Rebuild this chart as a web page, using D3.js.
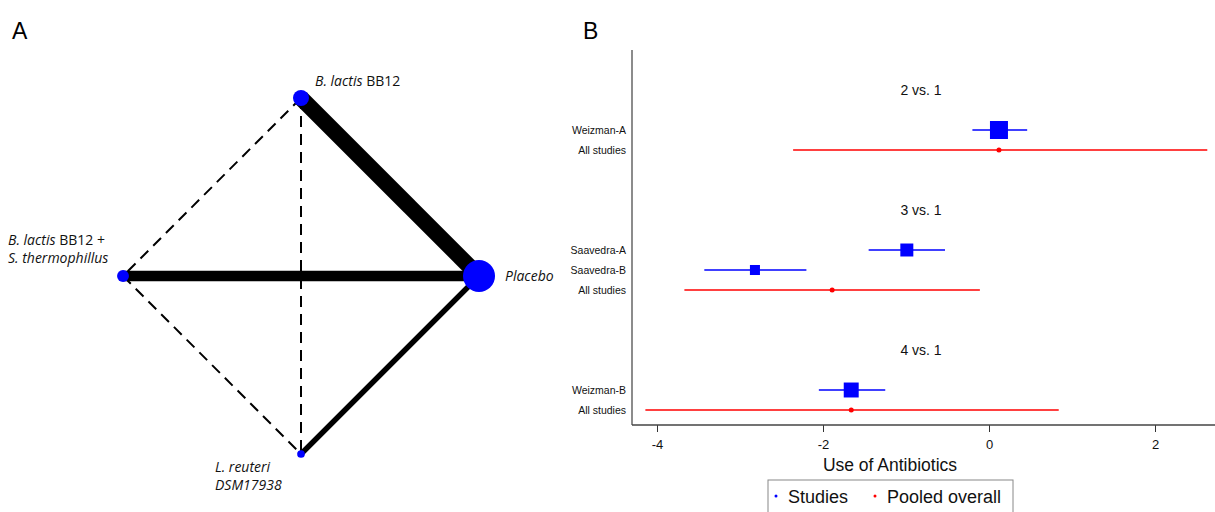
<!DOCTYPE html>
<html>
<head>
<meta charset="utf-8">
<script src="https://cdn.jsdelivr.net/npm/d3@7"></script>
<style>
  body { margin: 0; background: #fff; }
  svg { display: block; }
</style>
</head>
<body>
<div id="chart"></div>
<script>
// ---- Panel A: network of treatments ----
// order around the diamond: top, right, bottom, left
const netNodes = ['BB12', 'Placebo', 'Reuteri', 'BB12S'];
const nodeSizes = [65, 260, 15, 36]; // relative sample size (area)
const netEdges = [
  { a: 'BB12', b: 'Placebo', w: 3 },
  { a: 'BB12S', b: 'Placebo', w: 2 },
  { a: 'Reuteri', b: 'Placebo', w: 1 },
  { a: 'BB12', b: 'BB12S', w: 0 },
  { a: 'BB12', b: 'Reuteri', w: 0 },
  { a: 'BB12S', b: 'Reuteri', w: 0 }
];

// ---- Panel B: forest plot ----
const groupTitles = ['2 vs. 1', '3 vs. 1', '4 vs. 1'];
const studyNames = ['Weizman-A', 'All studies', 'Saavedra-A', 'Saavedra-B', 'All studies', 'Weizman-B', 'All studies'];
const studyPooled = [false, true, false, false, true, false, true];
const estimates = [0.12, 0.12, -0.99, -2.82, -1.89, -1.66, -1.66];
const lowerCI = [-0.2, -2.36, -1.45, -3.43, -3.67, -2.05, -4.14];
const upperCI = [0.46, 2.63, -0.53, -2.2, -0.11, -1.25, 0.84];
const weights = [1.0, null, 0.52, 0.31, null, 0.69, null];
const xTicks = [-4, -2, 0, 2];

const W = 1215, H = 512;
const svg = d3.select('#chart').append('svg')
  .attr('width', W).attr('height', H);

// panel letters
svg.append('text').attr('x', 12).attr('y', 39)
  .style('font', '23px "Liberation Sans", Arial, sans-serif').text('A');
svg.append('text').attr('x', 583).attr('y', 39)
  .style('font', '23px "Liberation Sans", Arial, sans-serif').text('B');

/* ---------- network ---------- */
const cx = 301, cy = 276, R = 178;
const angle = d3.scalePoint().domain(netNodes).range([-90, 180]);
const pos = {};
netNodes.forEach(n => {
  const a = angle(n) * Math.PI / 180;
  pos[n] = [cx + R * Math.cos(a), cy + R * Math.sin(a)];
});
const edgeW = d3.scaleLinear().domain([0, 3]).range([0, 16]);
const nodeR = d3.scaleSqrt().domain([0, 260]).range([0, 16]);

const gA = svg.append('g');
gA.selectAll('line.edge')
  .data(netEdges)
  .join('line')
  .attr('class', 'edge')
  .attr('x1', d => pos[d.a][0]).attr('y1', d => pos[d.a][1])
  .attr('x2', d => pos[d.b][0]).attr('y2', d => pos[d.b][1])
  .attr('stroke', '#000')
  .attr('stroke-width', d => d.w > 0 ? edgeW(d.w) : 2)
  .attr('stroke-dasharray', d => d.w > 0 ? null : '11,7');

gA.selectAll('circle.node')
  .data(netNodes)
  .join('circle')
  .attr('class', 'node')
  .attr('cx', d => pos[d][0]).attr('cy', d => pos[d][1])
  .attr('r', (d, i) => nodeR(nodeSizes[i]))
  .attr('fill', '#0000ff');

const labFont = '14px "Open Sans", "Noto Sans", sans-serif';
function netLabel(x, y, parts) {
  const t = gA.append('text').attr('x', x).attr('y', y).style('font', labFont).attr('fill', '#111');
  parts.forEach(p => t.append('tspan').style('font-style', p[1] ? 'italic' : 'normal').text(p[0]));
}
netLabel(pos.BB12[0] + 14, pos.BB12[1] - 12, [['B. lactis', true], [' BB12', false]]);
netLabel(pos.BB12S[0] - 115, pos.BB12S[1] - 31, [['B. lactis', true], [' BB12 +', false]]);
netLabel(pos.BB12S[0] - 115, pos.BB12S[1] - 13, [['S. thermophillus', true]]);
netLabel(pos.Placebo[0] + 26, pos.Placebo[1] + 5, [['Placebo', true]]);
netLabel(pos.Reuteri[0] - 86, pos.Reuteri[1] + 18, [['L. reuteri', true]]);
netLabel(pos.Reuteri[0] - 86, pos.Reuteri[1] + 36, [['DSM17938', true]]);

/* ---------- forest plot ---------- */
const x = d3.scaleLinear().domain([-4, 2]).range([657, 1155]);
// vertical layout in text lines of 20px
const titleLine = [0, 6, 13];
const studyLine = [2, 3, 8, 9, 10, 15, 16];
const y = d3.scaleLinear().domain([0, 1]).range([90, 110]);

const gB = svg.append('g');
const plotLeft = 632, plotRight = 1215, plotTop = 50, plotBottom = 425;
const sans = '"Liberation Sans", Arial, sans-serif';

gB.append('line')
  .attr('x1', plotLeft).attr('x2', plotLeft)
  .attr('y1', plotTop).attr('y2', plotBottom)
  .attr('stroke', '#666').attr('stroke-width', 1.5);

const axisG = gB.append('g')
  .attr('transform', `translate(0,${plotBottom})`)
  .call(d3.axisBottom(x).tickValues(xTicks).tickSize(7).tickSizeOuter(0).tickFormat(d => String(d)));
axisG.select('.domain').remove();
axisG.selectAll('.tick line').attr('stroke', '#333');
axisG.selectAll('.tick text')
  .attr('dy', '1.05em')
  .style('font', `13px ${sans}`).attr('fill', '#111');
gB.append('line')
  .attr('x1', plotLeft).attr('x2', plotRight)
  .attr('y1', plotBottom).attr('y2', plotBottom)
  .attr('stroke', '#444').attr('stroke-width', 1.5);

gB.append('text')
  .attr('x', 890).attr('y', 471)
  .attr('text-anchor', 'middle')
  .style('font', `17.5px ${sans}`).attr('fill', '#111')
  .text('Use of Antibiotics');

gB.selectAll('text.gtitle')
  .data(groupTitles)
  .join('text')
  .attr('class', 'gtitle')
  .attr('x', 921).attr('y', (d, i) => y(titleLine[i]) + 5)
  .attr('text-anchor', 'middle')
  .style('font', `14px ${sans}`).attr('fill', '#111')
  .text(d => d);

gB.selectAll('text.slabel')
  .data(studyNames)
  .join('text')
  .attr('class', 'slabel')
  .attr('x', 626).attr('y', (d, i) => y(studyLine[i]) + 3.5)
  .attr('text-anchor', 'end')
  .style('font', `10.5px ${sans}`).attr('fill', '#111')
  .text(d => d);

const rows = studyNames.map((n, i) => ({
  name: n, pooled: studyPooled[i], est: estimates[i], lo: lowerCI[i], hi: upperCI[i],
  w: weights[i], yy: y(studyLine[i])
}));
const sq = d3.scaleSqrt().domain([0, 1]).range([0, 18]);

gB.selectAll('line.ci')
  .data(rows)
  .join('line')
  .attr('class', 'ci')
  .attr('x1', d => x(d.lo)).attr('x2', d => x(d.hi))
  .attr('y1', d => d.yy).attr('y2', d => d.yy)
  .attr('stroke', d => d.pooled ? '#ff0000' : '#0000ff')
  .attr('stroke-width', 1.5);

gB.selectAll('rect.wt')
  .data(rows.filter(d => !d.pooled))
  .join('rect')
  .attr('class', 'wt')
  .attr('x', d => x(d.est) - sq(d.w) / 2).attr('y', d => d.yy - sq(d.w) / 2)
  .attr('width', d => sq(d.w)).attr('height', d => sq(d.w))
  .attr('fill', '#0000ff');

gB.selectAll('circle.pool')
  .data(rows.filter(d => d.pooled))
  .join('circle')
  .attr('class', 'pool')
  .attr('cx', d => x(d.est)).attr('cy', d => d.yy)
  .attr('r', 2.5)
  .attr('fill', '#ff0000');

// legend
const leg = gB.append('g');
leg.append('rect')
  .attr('x', 768).attr('y', 480).attr('width', 245).attr('height', 40)
  .attr('fill', 'none').attr('stroke', '#888').attr('stroke-width', 1);
const legItems = [['Studies', '#0000ff', 776], ['Pooled overall', '#ff0000', 875]];
legItems.forEach(([lab, col, lx]) => {
  leg.append('circle').attr('cx', lx).attr('cy', 496).attr('r', 1.5).attr('fill', col);
  leg.append('text').attr('x', lx + 12).attr('y', 503)
    .style('font', `18px ${sans}`).attr('fill', '#111')
    .text(lab);
});
</script>
</body>
</html>
